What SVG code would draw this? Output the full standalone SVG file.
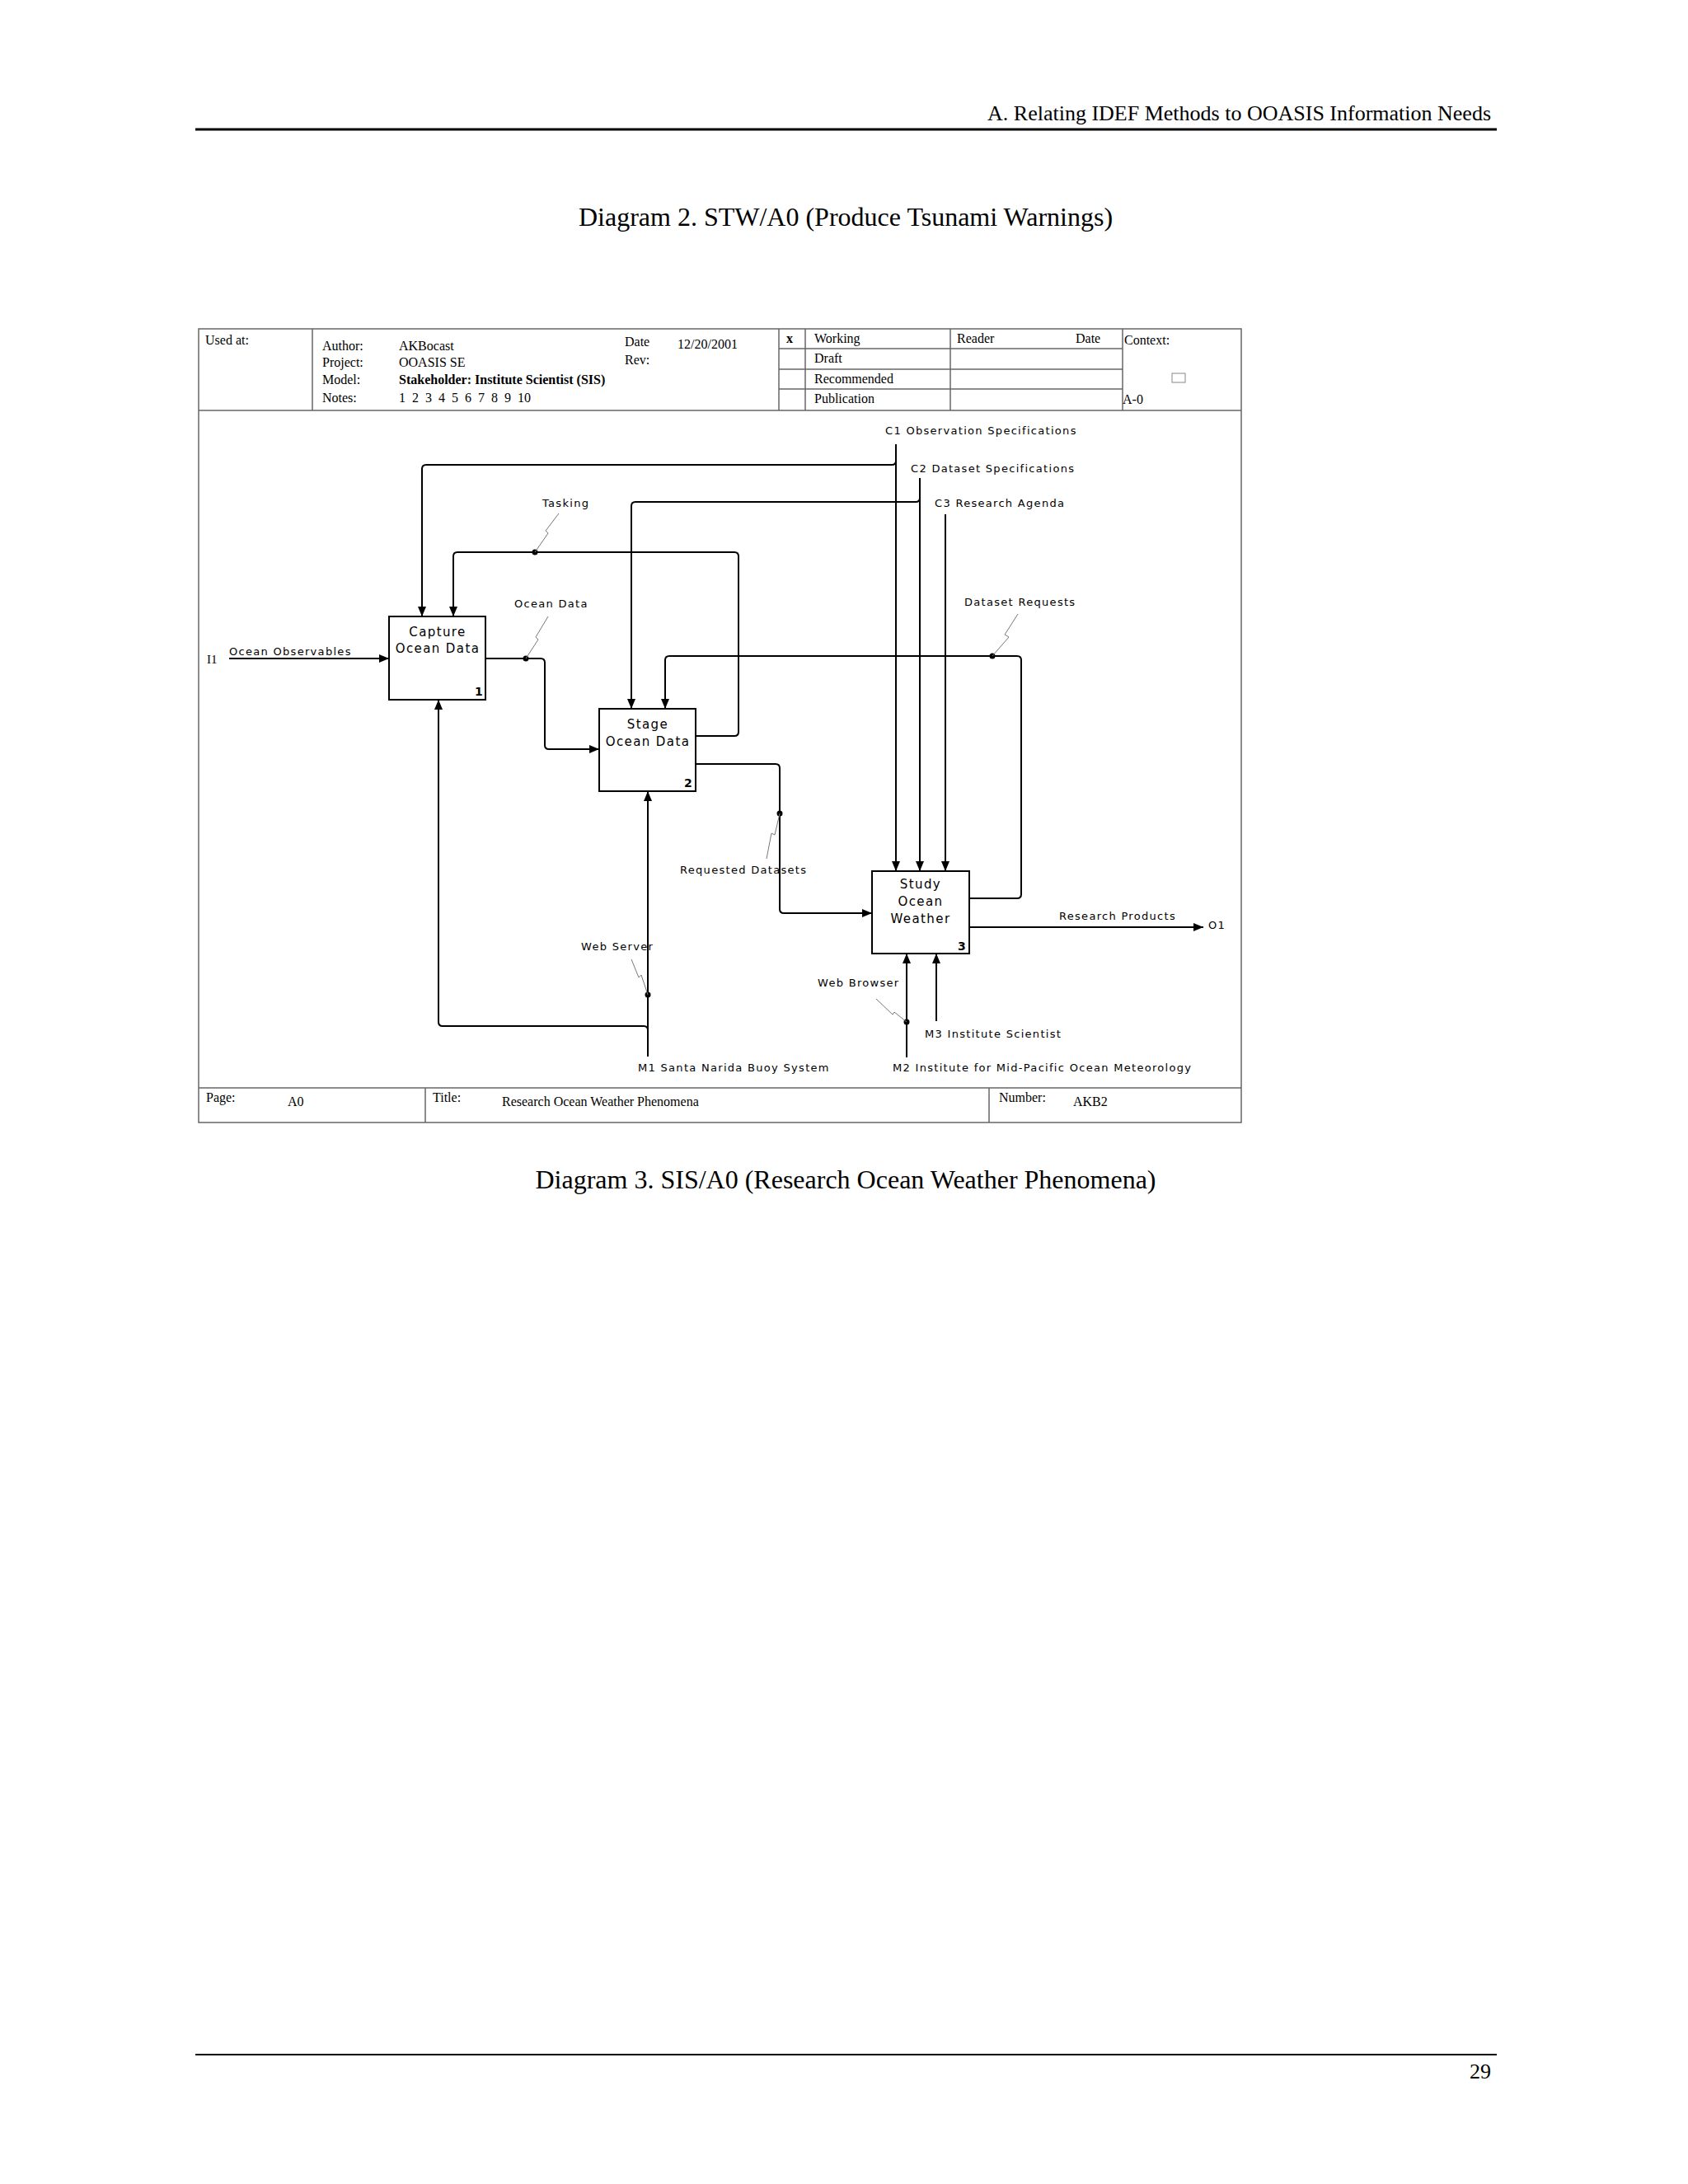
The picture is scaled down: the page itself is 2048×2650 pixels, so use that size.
<svg xmlns="http://www.w3.org/2000/svg" width="2048" height="2650" viewBox="0 0 2048 2650">
<style>
.serif{font-family:"Liberation Serif","Times New Roman",serif;fill:#000}
.hd{font-size:16px}
.lb{font-family:"DejaVu Sans","Liberation Sans",sans-serif;font-size:13px;letter-spacing:1.3px;fill:#000}
.bx{font-family:"DejaVu Sans","Liberation Sans",sans-serif;font-size:15px;letter-spacing:1.4px;fill:#000}
.num{font-family:"DejaVu Sans",sans-serif;font-size:14px;font-weight:bold}
.grid{stroke:#666;stroke-width:1.5;fill:none}
.ar{stroke:#000;stroke-width:2;fill:none}
.sq{stroke:#777;stroke-width:1;fill:none}
.box{stroke:#000;stroke-width:2;fill:#fff}
</style>
<defs>
<marker id="a" viewBox="0 0 12 10" refX="12" refY="5" markerWidth="12" markerHeight="10" markerUnits="userSpaceOnUse" orient="auto"><path d="M0,0L12,5L0,10z" fill="#000"/></marker>
</defs>
<rect width="2048" height="2650" fill="#fff"/>
<text class="serif" x="1809" y="146" font-size="26" text-anchor="end">A. Relating IDEF Methods to OOASIS Information Needs</text>
<line x1="237" y1="157" x2="1816" y2="157" stroke="#000" stroke-width="3"/>
<text class="serif" x="1026" y="274" font-size="32" text-anchor="middle">Diagram 2. STW/A0 (Produce Tsunami Warnings)</text>
<text class="serif" x="1026" y="1442" font-size="32" text-anchor="middle">Diagram 3. SIS/A0 (Research Ocean Weather Phenomena)</text>
<line x1="237" y1="2493" x2="1816" y2="2493" stroke="#000" stroke-width="2"/>
<text class="serif" x="1809" y="2522" font-size="26" text-anchor="end">29</text>

<g id="frame">
<rect class="grid" x="241" y="399" width="1265" height="963"/>
<line class="grid" x1="241" y1="498" x2="1506" y2="498"/>
<line class="grid" x1="379" y1="399" x2="379" y2="498"/>
<line class="grid" x1="945" y1="399" x2="945" y2="498"/>
<line class="grid" x1="977" y1="399" x2="977" y2="498"/>
<line class="grid" x1="1153" y1="399" x2="1153" y2="498"/>
<line class="grid" x1="1362" y1="399" x2="1362" y2="498"/>
<line class="grid" x1="945" y1="423" x2="1362" y2="423"/>
<line class="grid" x1="945" y1="448" x2="1362" y2="448"/>
<line class="grid" x1="945" y1="472" x2="1362" y2="472"/>
<rect x="1422" y="453" width="16" height="11" fill="none" stroke="#888" stroke-width="1"/>
<line class="grid" x1="241" y1="1320" x2="1506" y2="1320"/>
<line class="grid" x1="516" y1="1320" x2="516" y2="1362"/>
<line class="grid" x1="1200" y1="1320" x2="1200" y2="1362"/>
<g class="serif hd">
<text x="249" y="418">Used at:</text>
<text x="391" y="425">Author:</text><text x="484" y="425">AKBocast</text>
<text x="391" y="445">Project:</text><text x="484" y="445">OOASIS SE</text>
<text x="391" y="466">Model:</text><text x="484" y="466" font-weight="bold">Stakeholder: Institute Scientist (SIS)</text>
<text x="391" y="488">Notes:</text><text x="484" y="488" word-spacing="4">1 2 3 4 5 6 7 8 9 10</text>
<text x="758" y="420">Date</text><text x="822" y="423">12/20/2001</text>
<text x="758" y="442">Rev:</text>
<text x="954" y="416" font-weight="bold">x</text>
<text x="988" y="416">Working</text><text x="988" y="440">Draft</text><text x="988" y="465">Recommended</text><text x="988" y="489">Publication</text>
<text x="1161" y="416">Reader</text><text x="1305" y="416">Date</text>
<text x="1364" y="418">Context:</text><text x="1362" y="490">A-0</text>
<text x="250" y="1337">Page:</text><text x="349" y="1342">A0</text>
<text x="525" y="1337">Title:</text><text x="609" y="1342">Research Ocean Weather Phenomena</text>
<text x="1212" y="1337">Number:</text><text x="1302" y="1342">AKB2</text>
</g>
</g>

<g id="connectors">
<path class="ar" marker-end="url(#a)" d="M278,799H472"/>
<path class="ar" marker-end="url(#a)" d="M1087,539V1057"/>
<path class="ar" marker-end="url(#a)" d="M1087,559Q1087,564 1082,564H517Q512,564 512,569V748"/>
<path class="ar" marker-end="url(#a)" d="M1116,580V1057"/>
<path class="ar" marker-end="url(#a)" d="M1116,604Q1116,609 1111,609H771Q766,609 766,614V860"/>
<path class="ar" marker-end="url(#a)" d="M1147,624V1057"/>
<path class="ar" marker-end="url(#a)" d="M589,799H656Q661,799 661,804V904Q661,909 666,909H727"/>
<path class="ar" marker-end="url(#a)" d="M844,893H891Q896,893 896,888V675Q896,670 891,670H555Q550,670 550,675V748"/>
<path class="ar" marker-end="url(#a)" d="M1176,1090H1234Q1239,1090 1239,1085V801Q1239,796 1234,796H812Q807,796 807,801V860"/>
<path class="ar" marker-end="url(#a)" d="M844,927H941Q946,927 946,932V1103Q946,1108 951,1108H1058"/>
<path class="ar" marker-end="url(#a)" d="M1176,1125H1460"/>
<path class="ar" marker-end="url(#a)" d="M786,1282V960"/>
<path class="ar" marker-end="url(#a)" d="M786,1250Q786,1245 781,1245H537Q532,1245 532,1240V849"/>
<path class="ar" marker-end="url(#a)" d="M1100,1283V1157"/>
<path class="ar" marker-end="url(#a)" d="M1136,1239V1157"/>
<g fill="#000">
<circle cx="649" cy="670" r="3.5"/><circle cx="638" cy="799" r="3.5"/><circle cx="1204" cy="796" r="3.5"/>
<circle cx="946" cy="987" r="3.5"/><circle cx="786" cy="1207" r="3.5"/><circle cx="1100" cy="1240" r="3.5"/>
</g>
<polyline class="sq" points="649,670 665,647 662,644 678,623"/>
<polyline class="sq" points="638,799 653,776 650,773 665,748"/>
<polyline class="sq" points="1204,796 1224,773 1219,770 1235,745"/>
<polyline class="sq" points="946,987 940,1013 936,1011 930,1042"/>
<polyline class="sq" points="786,1207 778,1183 775,1186 766,1164"/>
<polyline class="sq" points="1100,1240 1085,1228 1083,1231 1063,1212"/>
</g>

<g id="box1"><rect class="box" x="472" y="748" width="117" height="101"/>
<text class="bx" x="531" y="772" text-anchor="middle">Capture</text><text class="bx" x="531" y="792" text-anchor="middle">Ocean Data</text><text class="num" x="576" y="844">1</text></g>
<g id="box2"><rect class="box" x="727" y="860" width="117" height="100"/>
<text class="bx" x="786" y="884" text-anchor="middle">Stage</text><text class="bx" x="786" y="905" text-anchor="middle">Ocean Data</text><text class="num" x="830" y="955">2</text></g>
<g id="box3"><rect class="box" x="1058" y="1057" width="118" height="100"/>
<text class="bx" x="1117" y="1078" text-anchor="middle">Study</text><text class="bx" x="1117" y="1099" text-anchor="middle">Ocean</text><text class="bx" x="1117" y="1120" text-anchor="middle">Weather</text><text class="num" x="1162" y="1153">3</text></g>

<g id="labels" class="lb">
<text x="1074" y="527">C1  Observation Specifications</text>
<text x="1105" y="573">C2  Dataset Specifications</text>
<text x="1134" y="615">C3  Research Agenda</text>
<text x="658" y="615">Tasking</text>
<text x="624" y="737">Ocean Data</text>
<text x="1170" y="735">Dataset Requests</text>
<text x="251" y="805" class="serif" font-size="15" letter-spacing="0">I1</text>
<text x="278" y="795">Ocean Observables</text>
<text x="825" y="1060">Requested Datasets</text>
<text x="1285" y="1116">Research Products</text>
<text x="1466" y="1127">O1</text>
<text x="705" y="1153">Web Server</text>
<text x="992" y="1197">Web Browser</text>
<text x="1122" y="1259">M3  Institute Scientist</text>
<text x="774" y="1300">M1  Santa Narida Buoy System</text>
<text x="1083" y="1300">M2  Institute for Mid-Pacific Ocean Meteorology</text>
</g>
</svg>
